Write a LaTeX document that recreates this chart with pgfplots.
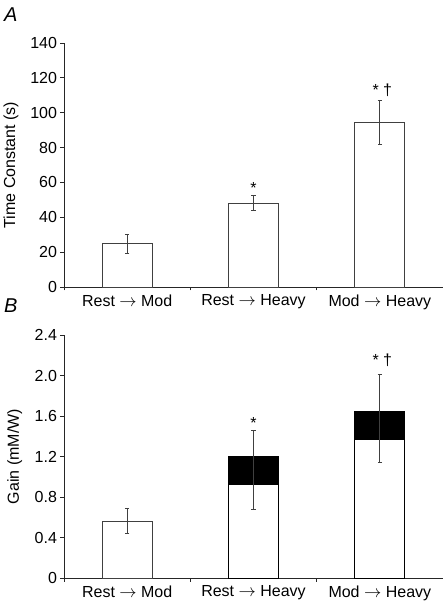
\documentclass[border=0pt]{standalone}
\usepackage{pgfplots}
\pgfplotsset{compat=1.18}
\usepackage{fontspec}
\setmainfont{Liberation Sans}
\newcommand{\ff}{\fontsize{16}{19}\selectfont}
\newcommand{\ar}{\ensuremath{\rightarrow}}
\begin{document}
\begin{tikzpicture}[x=1pt,y=1pt]
\useasboundingbox (0,0) rectangle (443,604);
\pgfplotsset{
 common/.style={
  scale only axis, width=379pt,
  xmin=-0.5, xmax=2.5, ymin=0,
  axis x line*=bottom, axis y line*=left,
  axis line style={black!85, line width=0.8pt},
  xtick={-0.5,0.5,1.5,2.5}, xticklabels={},
  extra x ticks={0,1,2},
  extra x tick labels={Rest \ar{} Mod, Rest \ar{} Heavy, Mod \ar{} Heavy},
  extra x tick style={major tick length=0pt, tick style={draw=none},
     xticklabel style={font=\ff, yshift=-4pt}},
  major tick length=3.5pt,
  tick align=outside,
  tick style={black!85, line width=0.8pt},
  ticklabel style={font=\ff},
  /pgf/number format/assume math mode=true,
  label style={font=\ff},
  clip=false,
 },
 bars/.style={ybar, bar width=50pt, bar shift=0pt, fill=white, draw=black!75, line width=0.9pt},
 errs/.style={draw=none, mark=none, forget plot,
  error bars/.cd, y dir=both, y explicit,
  error bar style={draw=black!75, line width=0.8pt, solid},
  error mark options={rotate=90, draw=black!75, mark size=2.2pt, line width=0.8pt}},
}
% Panel A
\begin{axis}[common, at={(64pt,317pt)}, anchor=south west, height=244pt,
  ymax=140, ytick={0,20,...,140},
  ylabel={Time Constant (s)},
  ylabel style={at={(axis description cs:-0.14,0.5)}, anchor=center, rotate=0}]
\addplot[bars] coordinates {(0,24.8) (1,48.0) (2,94.5)};
\addplot[errs] coordinates {(0,24.8) +- (0,5.3) (1,48.0) +- (0,4.3) (2,94.5) +- (0,12.5)};
\node[font=\ff, anchor=base] at (axis cs:1,53.5) {*};
\node[font=\ff, anchor=base] at (axis cs:2.02,109.8) {* †};
\end{axis}
% Panel B
\begin{axis}[common, at={(64pt,25.7pt)}, anchor=south west, height=243.3pt,
  ymax=2.4, ytick={0,0.4,0.8,1.2,1.6,2.0,2.4},
  yticklabels={0,0.4,0.8,1.2,1.6,2.0,2.4},
  ylabel={Gain (mM/W)},
  ylabel style={at={(axis description cs:-0.13,0.5)}, anchor=center, rotate=0}]
\addplot[bars, fill=black, draw=black] coordinates {(1,1.20) (2,1.648)};
\addplot[bars] coordinates {(0,0.563)};
\addplot[bars, draw=black] coordinates {(1,0.928) (2,1.372)};
\addplot[errs] coordinates {(0,0.565) +- (0,0.12) (1,1.069) +- (0,0.388) (2,1.576) +- (0,0.435)};
\node[font=\ff, anchor=base] at (axis cs:1,1.477) {*};
\node[font=\ff, anchor=base] at (axis cs:2.02,2.096) {* †};
\end{axis}
\node[font=\fontsize{20}{24}\selectfont\itshape, anchor=base west, inner sep=0pt] at (4,582) {A};
\node[font=\fontsize{20}{24}\selectfont\itshape, anchor=base west, inner sep=0pt] at (4,291) {B};
\end{tikzpicture}
\end{document}
